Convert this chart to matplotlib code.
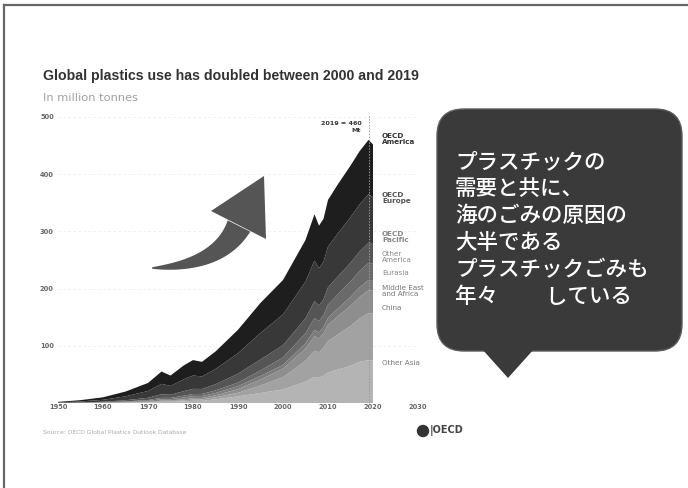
import matplotlib
matplotlib.use("Agg")
import matplotlib.pyplot as plt
from matplotlib.patches import FancyBboxPatch, Polygon, Circle
import numpy as np

# ---------------- data ----------------
years = [1950, 1955, 1960, 1965, 1970, 1973, 1975, 1978, 1980, 1982, 1985, 1990,
         1995, 2000, 2005, 2007, 2008, 2009, 2010, 2012, 2015, 2017, 2019, 2020]

# million tonnes, stacked bottom -> top
other_asia   = [0.06, 0.12, 0.25, 0.5, 1.0, 1.6, 2.1, 2.9, 3.7, 3.8, 6.4, 11.5,
                17.5, 23.6, 37.3, 45.8, 44.1, 47.6, 53.2, 58.0, 65.0, 71.9, 75, 74]
china        = [0.02, 0.07, 0.15, 0.3, 0.7, 1.3, 1.2, 1.8, 2.3, 2.5, 3.6, 6.4,
                13.1, 21.5, 36.5, 45.5, 44.6, 49.0, 55.0, 60.8, 69.7, 75.5, 82, 83]
mid_east_afr = [0.04, 0.1, 0.2, 0.4, 0.7, 1.3, 1.2, 1.8, 2.3, 2.4, 3.4, 6.4,
                10.5, 15.0, 21.4, 25.4, 24.2, 25.4, 28.4, 31.2, 35.3, 37.8, 40, 40]
eurasia      = [0.08, 0.2, 0.4, 0.8, 1.4, 2.4, 2.2, 3.2, 3.7, 3.5, 4.1, 5.1,
                6.1, 6.5, 9.1, 10.9, 10.5, 11.0, 12.4, 13.7, 15.4, 16.8, 18, 18]
other_america= [0.06, 0.16, 0.35, 0.8, 1.4, 2.4, 2.2, 3.2, 3.7, 3.6, 4.5, 6.4,
                9.6, 12.9, 17.7, 20.8, 19.8, 20.6, 23.1, 24.7, 27.0, 28.6, 30, 29]
oecd_pacific = [0.12, 0.35, 0.85, 2.0, 3.9, 6.3, 5.5, 7.9, 9.0, 8.7, 10.8, 15.4,
                19.3, 21.5, 26.2, 29.7, 27.3, 27.7, 30.2, 31.2, 32.8, 33.9, 35, 34]
oecd_europe  = [0.66, 1.7, 3.4, 6.8, 11.9, 18.2, 15.4, 20.8, 23.3, 22.0, 26.6, 35.8,
                46.4, 53.8, 64.1, 71.0, 65.1, 65.7, 71.0, 74.9, 79.7, 82.5, 85, 82]
oecd_america = [0.96, 2.3, 4.4, 8.4, 14.0, 21.5, 18.2, 24.4, 27.0, 25.5, 30.6, 41.0,
                52.5, 60.2, 72.7, 80.9, 74.4, 75.0, 81.7, 85.5, 90.1, 93.0, 95, 92]

region_names = ["Other Asia", "China", "Middle East\nand Africa", "Eurasia",
                "Other\nAmerica", "OECD\nPacific", "OECD\nEurope", "OECD\nAmerica"]
series = [other_asia, china, mid_east_afr, eurasia, other_america,
          oecd_pacific, oecd_europe, oecd_america]
label_y = [70, 166, 196, 227, 255, 290, 358, 462]   # label anchor (Mt)

xticks = [1950, 1960, 1970, 1980, 1990, 2000, 2010, 2020, 2030]
yticks = [100, 200, 300, 400, 500]
highlight_year = 2019
highlight_value = 460

bubble_lines = ["プラスチックの", "需要と共に、", "海のごみの原因の",
                "大半である", "プラスチックごみも", "年々　　 している"]

title = "Global plastics use has doubled between 2000 and 2019"
subtitle = "In million tonnes"
source = "Source: OECD Global Plastics Outlook Database"

# ---------------- style ----------------
colors = ["#b4b4b4", "#a2a2a2", "#8e8e8e", "#7c7c7c", "#6a6a6a",
          "#555555", "#383838", "#1e1e1e"]
label_colors = ["#777777", "#777777", "#777777", "#888888", "#888888",
                "#888888", "#555555", "#333333"]

W, H = 688, 488
fig = plt.figure(figsize=(W / 100, H / 100), dpi=100, facecolor="white")

# chart axes in pixel geometry
x0, x1 = 58, 418
y0, y1 = 403, 117
ax = fig.add_axes([x0 / W, (H - y0) / H, (x1 - x0) / W, (y0 - y1) / H])
ax.set_xlim(1950, 2030)
ax.set_ylim(0, 500)
ax.stackplot(years, *series, colors=colors, linewidth=0, zorder=2)
for s in ax.spines.values():
    s.set_visible(False)
ax.set_xticks(xticks)
ax.set_xticklabels([str(t) for t in xticks])
ax.set_yticks(yticks)
ax.set_yticklabels([str(t) for t in yticks])
ax.tick_params(axis="x", length=0, labelsize=4.8, labelcolor="#666666", pad=0.8)
ax.tick_params(axis="y", length=0, labelsize=4.8, labelcolor="#666666", pad=3)
for lab in ax.get_xticklabels() + ax.get_yticklabels():
    lab.set_fontweight("bold")
ax.grid(axis="y", color="#eeeeee", lw=0.6, ls=(0, (3, 3)), zorder=0)
ax.set_axisbelow(True)
ax.plot([highlight_year, highlight_year], [0, 506], color="#999999", lw=0.7,
        ls=(0, (1.5, 1.5)), clip_on=False, zorder=3)
ax.text(highlight_year - 1.6, 493, f"{highlight_year} = {highlight_value}\nMt",
        ha="right", va="top", fontsize=4.6, color="#333333", fontweight="bold",
        linespacing=1.5)

for name, yv, c in zip(region_names, label_y, label_colors):
    ax.text(2022, yv, name, ha="left", va="center", fontsize=5.2, color=c,
            linespacing=1.0, fontweight="bold" if "OECD" in name else "normal")

# overlay axes in pixel coordinates
ov = fig.add_axes([0, 0, 1, 1], zorder=5)
ov.set_xlim(0, W)
ov.set_ylim(H, 0)
ov.axis("off")
ov.patch.set_alpha(0)

# slide border
ov.plot([4, W], [5, 5], color="#666666", lw=1.6)
ov.plot([4, 4], [5, H], color="#666666", lw=1.6)

# title texts
ov.text(43, 76, title, fontsize=10.2, fontweight="bold", color="#333333",
        ha="left", va="center", family=["Liberation Sans", "DejaVu Sans"])
ov.text(43, 98, subtitle, fontsize=8.2, color="#a0a0a0", ha="left", va="center")
ov.text(43, 432, source, fontsize=4.3, color="#aaaaaa", ha="left", va="center")

# OECD logo
ov.add_patch(Circle((423, 431), 5.5, color="#333333"))
ov.text(430, 431, "|OECD", fontsize=7, color="#444444", ha="left", va="center",
        fontweight="bold")

# curved, tapered arrow (decorative)
p0 = np.array([152.0, 268.0])
p1 = np.array([219.0, 266.0])
p2 = np.array([239.0, 226.0])
t = np.linspace(0, 1, 60)
pts = ((1 - t) ** 2)[:, None] * p0 + (2 * (1 - t) * t)[:, None] * p1 + (t ** 2)[:, None] * p2
tan = (2 * (1 - t))[:, None] * (p1 - p0) + (2 * t)[:, None] * (p2 - p1)
tan /= np.linalg.norm(tan, axis=1)[:, None]
nrm = np.stack([-tan[:, 1], tan[:, 0]], axis=1)
hw = 0.6 + 12.0 * t ** 0.8
upper = pts + nrm * hw[:, None]
lower = pts - nrm * hw[:, None]
shaft = np.vstack([upper, lower[::-1]])
ov.add_patch(Polygon(shaft, closed=True, facecolor="#555555", edgecolor="none"))
ov.add_patch(Polygon([(211, 211), (264, 176), (266, 239)], closed=True,
                     facecolor="#555555", edgecolor="none"))

# speech bubble
ov.add_patch(FancyBboxPatch((437, 109), 245, 242,
                            boxstyle="round,pad=0,rounding_size=27",
                            facecolor="#3a3a3a", edgecolor="#5c5c5c", lw=1.0))
ov.add_patch(Polygon([(482, 349), (534, 349), (508, 378)], closed=True,
                     facecolor="#3a3a3a", edgecolor="none"))

for i, line in enumerate(bubble_lines):
    ov.text(455, 162 + 27 * i, line, fontsize=15.5, color="white",
            ha="left", va="center", fontweight="medium",
            family=["Noto Sans CJK JP", "DejaVu Sans"])

fig.savefig("out.png", dpi=100, facecolor="white")
